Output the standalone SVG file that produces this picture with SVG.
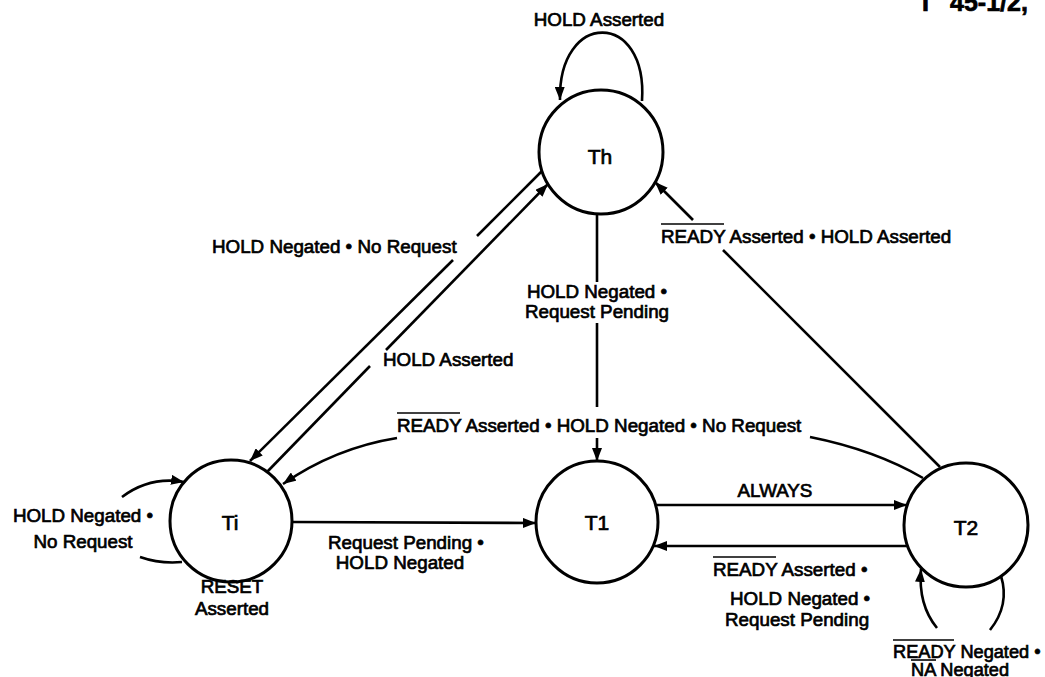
<svg xmlns="http://www.w3.org/2000/svg" width="1045" height="677" viewBox="0 0 1045 677">
<style>
text{font-family:"Liberation Sans",Arial,sans-serif;font-size:18.8px;fill:#000;stroke:#000;stroke-width:0.7px}
.st{font-size:21px}
.node circle{fill:#fff;stroke:#000;stroke-width:3}
.c path,.c line{fill:none;stroke:#000;stroke-width:2.6}
.ov{stroke:#000;stroke-width:1.6}
</style>
<defs>
<marker id="ah" markerUnits="userSpaceOnUse" markerWidth="14" markerHeight="10" refX="13" refY="5" orient="auto">
<path d="M0,0 L13,5 L0,10 z" fill="#000"/>
</marker>
</defs>
<rect width="1045" height="677" fill="#fff"/>
<text x="922" y="11" style="font-size:25px;font-weight:bold">I<tspan x="950">45-1/2,</tspan></text>

<g class="c" id="connectors">
<path d="M642 101 C648 10 558 10 560 100" marker-end="url(#ah)"/>
<path d="M542 171 L477 236"/>
<path d="M453 260 L250 461" marker-end="url(#ah)"/>
<path d="M267 472 L370 366"/>
<path d="M386 350 L548 184" marker-end="url(#ah)"/>
<line x1="597" y1="214" x2="597" y2="282"/>
<line x1="597" y1="323" x2="597" y2="407"/>
<path d="M597 438 L597 461" marker-end="url(#ah)"/>
<path d="M940 467 L723 250"/>
<path d="M693 220 L655 182" marker-end="url(#ah)"/>
<path d="M923 478 Q875 450 810 437"/>
<path d="M397 438 Q335 448 283 484" marker-end="url(#ah)"/>
<path d="M122 497 Q150 476 184 482" marker-end="url(#ah)"/>
<path d="M182 562 Q160 564 140 557"/>
<path d="M292 522 L536 523" marker-end="url(#ah)"/>
<path d="M656 505 L907 505" marker-end="url(#ah)"/>
<path d="M908 546 L654 546" marker-end="url(#ah)"/>
<path d="M937 628 Q918 605 921 569" marker-end="url(#ah)"/>
<path d="M1001 576 Q1010 605 990 630"/>
</g>

<g class="node" id="Th"><circle cx="601" cy="152" r="62"/><text class="st" x="600" y="164" text-anchor="middle">Th</text></g>
<g class="node" id="Ti"><circle cx="231" cy="521" r="61"/><text class="st" x="230" y="530" text-anchor="middle">Ti</text></g>
<g class="node" id="T1"><circle cx="597" cy="522" r="61"/><text class="st" x="597" y="530" text-anchor="middle">T1</text></g>
<g class="node" id="T2"><circle cx="966" cy="525" r="62"/><text class="st" x="966" y="535" text-anchor="middle">T2</text></g>

<g id="labels">
<text x="599" y="26" text-anchor="middle">HOLD Asserted</text>
<text x="212" y="253">HOLD Negated • No Request</text>
<text x="383" y="366">HOLD Asserted</text>
<text x="597" y="298" text-anchor="middle">HOLD Negated •</text>
<text x="597" y="318" text-anchor="middle">Request Pending</text>
<text x="661" y="243">READY Asserted • HOLD Asserted</text>
<line class="ov" x1="661" y1="224" x2="724" y2="224"/>
<text x="397" y="432">READY Asserted • HOLD Negated • No Request</text>
<line class="ov" x1="397" y1="413" x2="460" y2="413"/>
<text x="83" y="522" text-anchor="middle">HOLD Negated •</text>
<text x="83" y="548" text-anchor="middle">No Request</text>
<text x="232" y="593" text-anchor="middle">RESET</text>
<text x="232" y="615" text-anchor="middle">Asserted</text>
<text x="328" y="549">Request Pending •</text>
<text x="400" y="569" text-anchor="middle">HOLD Negated</text>
<text x="775" y="497" text-anchor="middle">ALWAYS</text>
<text x="713" y="576">READY Asserted •</text>
<line class="ov" x1="713" y1="557" x2="776" y2="557"/>
<text x="730" y="605">HOLD Negated •</text>
<text x="725" y="626">Request Pending</text>
<text x="893" y="658" style="font-size:18.2px">READY Negated •</text>
<line class="ov" x1="893" y1="640" x2="954" y2="640"/>
<text x="911" y="676" style="font-size:18.2px">NA Negated</text>
<line class="ov" x1="911" y1="660" x2="936" y2="660"/>
</g>
</svg>
